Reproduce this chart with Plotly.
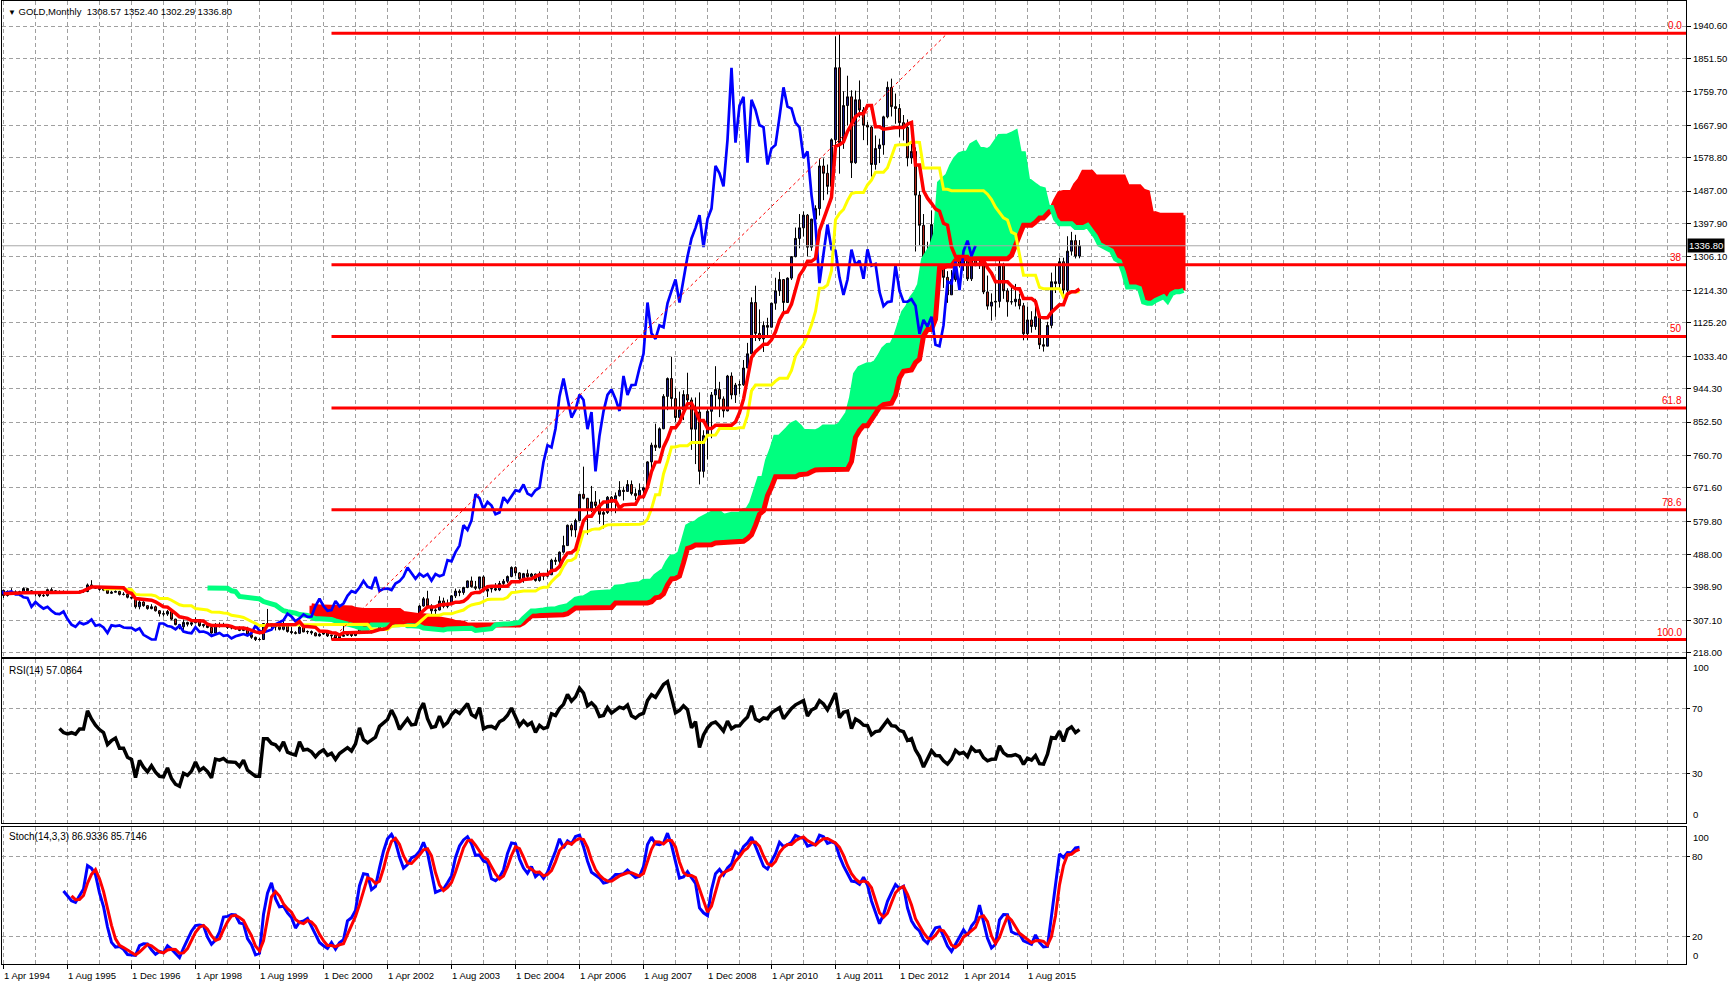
import numpy as np
import pandas as pd
import plotly.graph_objects as go

# ---------------- data: GOLD monthly bars, 1 Apr 1994 .. 1 Sep 2016 ----------------
first_open = 390.0
highs = [
    392, 390, 396, 390, 389, 398, 397, 391, 385,                        # 1994 Apr-Dec
    383, 381, 395, 397, 391, 390, 390, 389, 388, 388, 390, 390,         # 1995
    409, 418, 402, 398, 395, 394, 389, 390, 389, 385, 383, 372,         # 1996
    370, 365, 360, 349, 352, 348, 336, 333, 336, 334, 312, 298,         # 1997
    310, 304, 304, 316, 311, 298, 297, 290, 300, 302, 301, 297,         # 1998
    293, 290, 291, 290, 290, 270, 263, 260, 300, 339, 300, 293,         # 1999
    293, 313, 294, 289, 278, 292, 291, 280, 280, 275, 272, 275,         # 2000
    274, 268, 268, 265, 292, 274, 271, 278, 296, 294, 284, 281,         # 2001
    286, 303, 304, 310, 328, 332, 320, 318, 328, 326, 324, 350,         # 2002
    372, 389, 352, 341, 374, 370, 365, 377, 395, 393, 400, 417,         # 2003
    428, 416, 427, 431, 395, 401, 410, 416, 421, 431, 456, 456,         # 2004
    440, 438, 447, 438, 436, 442, 438, 447, 477, 481, 497, 540,         # 2005
    571, 574, 587, 654, 730, 644, 677, 663, 640, 611, 649, 649,         # 2006
    659, 690, 675, 693, 692, 670, 684, 675, 745, 796, 848, 838,         # 2007
    929, 975, 1032, 945, 936, 940, 988, 920, 920, 934, 830, 890,        # 2008
    935, 1006, 963, 923, 982, 989, 960, 966, 1023, 1070, 1195, 1227,    # 2009
    1162, 1129, 1139, 1180, 1249, 1265, 1245, 1250, 1308, 1387, 1424, 1431,  # 2010
    1424, 1411, 1448, 1576, 1577, 1560, 1632, 1912, 1921, 1761, 1804, 1764,  # 2011
    1763, 1791, 1718, 1677, 1666, 1640, 1631, 1694, 1788, 1796, 1755, 1727,  # 2012
    1696, 1684, 1617, 1607, 1487, 1424, 1348, 1434, 1434, 1362, 1362, 1267,  # 2013
    1270, 1345, 1392, 1331, 1315, 1332, 1345, 1322, 1292, 1255, 1206, 1239,  # 2014
    1307, 1290, 1220, 1225, 1232, 1205, 1180, 1170, 1157, 1191, 1142, 1088,  # 2015
    1128, 1263, 1283, 1304, 1304, 1363, 1375, 1367, 1352.40,                 # 2016 Jan-Sep
]
lows = [
    369, 373, 380, 379, 374, 382, 385, 380, 374,
    371, 372, 373, 385, 381, 382, 381, 380, 381, 380, 381, 383,
    385, 398, 394, 389, 388, 380, 380, 384, 376, 376, 368, 366,
    340, 338, 345, 337, 338, 332, 318, 318, 320, 308, 294, 283,
    278, 291, 292, 299, 290, 288, 286, 271, 273, 288, 290, 284,
    283, 282, 278, 278, 266, 257, 251, 252, 254, 295, 286, 280,
    280, 280, 274, 270, 269, 270, 275, 270, 268, 264, 263, 268,
    262, 255, 256, 255, 263, 265, 262, 264, 270, 276, 272, 272,
    277, 281, 288, 299, 307, 313, 300, 301, 311, 312, 314, 318,
    345, 344, 323, 320, 335, 341, 341, 351, 369, 374, 378, 396,
    398, 391, 392, 385, 372, 384, 388, 388, 400, 410, 426, 430,
    418, 411, 424, 421, 414, 414, 418, 426, 432, 460, 458, 491,
    513, 538, 536, 581, 640, 543, 605, 612, 573, 560, 600, 606,
    602, 648, 637, 662, 651, 638, 642, 642, 671, 724, 773, 780,
    833, 885, 890, 853, 846, 858, 905, 776, 737, 681, 700, 750,
    808, 893, 866, 865, 882, 915, 905, 930, 952, 1001, 1040, 1075,
    1075, 1045, 1087, 1113, 1161, 1199, 1157, 1181, 1243, 1305, 1330, 1362,
    1308, 1323, 1381, 1420, 1462, 1478, 1478, 1600, 1535, 1603, 1667, 1523,
    1562, 1689, 1627, 1613, 1527, 1546, 1564, 1587, 1687, 1692, 1672, 1636,
    1626, 1555, 1562, 1321, 1338, 1180, 1206, 1271, 1292, 1251, 1221, 1180,
    1202, 1238, 1277, 1268, 1240, 1240, 1281, 1273, 1204, 1161, 1131, 1142,
    1167, 1191, 1142, 1175, 1170, 1162, 1077, 1078, 1098, 1106, 1053, 1046,
    1061, 1110, 1207, 1209, 1200, 1200, 1310, 1302, 1302.29,
]
closes = [
    376, 387, 386, 384, 386, 395, 389, 383, 383,
    375, 376, 392, 389, 385, 387, 384, 383, 384, 383, 387, 387,
    405, 400, 396, 393, 391, 382, 385, 387, 379, 379, 371, 369,
    345, 358, 348, 340, 345, 334, 326, 325, 332, 311, 296, 290,
    302, 297, 301, 310, 293, 296, 288, 273, 294, 292, 294, 288,
    287, 287, 280, 286, 268, 261, 255, 255, 299, 299, 292, 290,
    283, 293, 277, 274, 272, 289, 276, 277, 273, 265, 270, 273,
    265, 267, 258, 264, 267, 270, 266, 273, 293, 279, 275, 279,
    282, 297, 302, 308, 326, 318, 305, 313, 324, 317, 318, 347,
    367, 347, 334, 336, 361, 346, 354, 375, 388, 384, 398, 416,
    400, 396, 427, 388, 394, 395, 391, 409, 415, 428, 453, 438,
    422, 436, 428, 435, 417, 435, 429, 433, 473, 470, 495, 513,
    569, 556, 582, 654, 643, 613, 633, 623, 599, 604, 646, 632,
    650, 665, 662, 681, 656, 650, 665, 672, 743, 789, 783, 834,
    923, 972, 917, 865, 886, 928, 913, 833, 880, 717, 815, 882,
    927, 942, 916, 883, 979, 927, 954, 955, 1001, 1040, 1181, 1096,
    1081, 1118, 1113, 1179, 1213, 1244, 1181, 1248, 1307, 1357, 1386, 1421,
    1333, 1410, 1439, 1556, 1536, 1500, 1628, 1826, 1620, 1722, 1746, 1565,
    1738, 1710, 1668, 1663, 1560, 1604, 1614, 1691, 1772, 1719, 1714, 1675,
    1662, 1578, 1596, 1476, 1393, 1234, 1312, 1395, 1327, 1323, 1250, 1202,
    1244, 1326, 1284, 1296, 1246, 1327, 1282, 1287, 1210, 1171, 1182, 1184,
    1283, 1213, 1183, 1183, 1190, 1172, 1095, 1133, 1115, 1142, 1065, 1061,
    1118, 1238, 1233, 1293, 1215, 1322, 1351, 1308.57, 1336.80,
]

price_ticks = [218.00, 307.10, 398.90, 488.00, 579.80, 671.60, 760.70, 852.50, 944.30,
               1033.40, 1125.20, 1214.30, 1306.10, 1397.90, 1487.00, 1578.80, 1667.90,
               1759.70, 1851.50, 1940.60]
x_labels = ["1 Apr 1994", "1 Aug 1995", "1 Dec 1996", "1 Apr 1998", "1 Aug 1999",
            "1 Dec 2000", "1 Apr 2002", "1 Aug 2003", "1 Dec 2004", "1 Apr 2006",
            "1 Aug 2007", "1 Dec 2008", "1 Apr 2010", "1 Aug 2011", "1 Dec 2012",
            "1 Apr 2014", "1 Aug 2015"]
x_label_bars = list(range(0, 16 * len(x_labels), 16))

fib_high = 1920.7
fib_low = 255.0
fib_ratios = [0.0, 0.382, 0.5, 0.618, 0.786, 1.0]
fib_texts = ["0.0", "38", "50", "61.8", "78.6", "100.0"]
fib_bar_low = 82     # Feb 2001
fib_bar_high = 236   # second anchor of the fibo tool

rsi_levels = [30, 70]
stoch_levels = [20, 80]

title_text = "GOLD,Monthly\u00a0\u00a01308.57 1352.40 1302.29 1336.80"
rsi_text = "RSI(14) 57.0864"
stoch_text = "Stoch(14,3,3) 86.9336 85.7146"

# ---------------- indicators ----------------
n = len(closes)
H = pd.Series(highs, dtype=float)
L = pd.Series(lows, dtype=float)
C = pd.Series(closes, dtype=float)
O = pd.Series([first_open] + closes[:-1], dtype=float)
idx = np.arange(n)
SH = 26

tenkan = (H.rolling(9, min_periods=1).max() + L.rolling(9, min_periods=1).min()) / 2
kijun = (H.rolling(26).max() + L.rolling(26).min()) / 2
spanA = np.full(n + SH, np.nan)
spanB = np.full(n + SH, np.nan)
spanA[SH:] = ((tenkan + kijun) / 2).values
spanB[SH:] = ((H.rolling(52).max() + L.rolling(52).min()) / 2).values
xf = np.arange(n + SH)
chik_x = idx - SH
keep = chik_x >= -1

# RSI(14) Wilder
diff = np.diff(C.values)
gain = np.where(diff > 0, diff, 0.0)
loss = np.where(diff < 0, -diff, 0.0)
rsi = np.full(n, np.nan)
ag, al = gain[:14].mean(), loss[:14].mean()
rsi[14] = 100 - 100 / (1 + ag / al)
for i in range(15, n):
    ag = (ag * 13 + gain[i - 1]) / 14
    al = (al * 13 + loss[i - 1]) / 14
    rsi[i] = 100 - 100 / (1 + ag / al)

# Stochastic (14,3,3)
ll = L.rolling(14).min()
hh = H.rolling(14).max()
stk = 100 * (C - ll).rolling(3).sum() / (hh - ll).rolling(3).sum()
std = stk.rolling(3).mean()

# ---------------- figure ----------------
GREEN = "#00FF7F"
RED = "#FF0000"
GRID = "#A0A0A0"
FONT = "Liberation Sans"
XR = [-0.375, 420.625]

fig = go.Figure()

# Kumo fill
valid = ~np.isnan(spanA) & ~np.isnan(spanB)
runs = []
cur, cur_s = [], None
for j in np.where(valid)[0]:
    s = bool(spanA[j] >= spanB[j])
    if cur and (s != cur_s or j != cur[-1] + 1):
        runs.append((cur_s, cur))
        cur = []
    cur.append(int(j))
    cur_s = s
if cur:
    runs.append((cur_s, cur))
for s, run in runs:
    up = np.maximum(spanA[run], spanB[run])
    lo = np.minimum(spanA[run], spanB[run])
    px, py = [], []
    for j, u in zip(run, up):
        px += [j - 0.5, j + 0.5]
        py += [u, u]
    for j, l in zip(run[::-1], lo[::-1]):
        px += [j + 0.5, j - 0.5]
        py += [l, l]
    fig.add_trace(go.Scatter(x=px, y=py, mode="lines", fill="toself",
                             fillcolor=GREEN if s else RED, line=dict(width=0),
                             hoverinfo="skip", showlegend=False, xaxis="x", yaxis="y"))

fig.add_trace(go.Scatter(x=xf, y=spanB, mode="lines", line=dict(color=RED, width=5),
                         hoverinfo="skip", showlegend=False, xaxis="x", yaxis="y"))
fig.add_trace(go.Scatter(x=xf, y=spanA, mode="lines", line=dict(color=GREEN, width=5),
                         hoverinfo="skip", showlegend=False, xaxis="x", yaxis="y"))

fig.add_trace(go.Candlestick(
    x=idx, open=O, high=H, low=L, close=C,
    increasing=dict(line=dict(color="black", width=1), fillcolor="#1A1A8C"),
    decreasing=dict(line=dict(color="black", width=1), fillcolor="#B8261A"),
    whiskerwidth=0, hoverinfo="skip", showlegend=False, xaxis="x", yaxis="y"))

fig.add_trace(go.Scatter(x=chik_x[keep], y=C.values[keep], mode="lines",
                         line=dict(color="#0000FF", width=2.7),
                         hoverinfo="skip", showlegend=False, xaxis="x", yaxis="y"))
fig.add_trace(go.Scatter(x=idx, y=kijun, mode="lines", line=dict(color="#FFFF00", width=3),
                         hoverinfo="skip", showlegend=False, xaxis="x", yaxis="y"))
fig.add_trace(go.Scatter(x=idx, y=tenkan, mode="lines", line=dict(color=RED, width=3.5),
                         hoverinfo="skip", showlegend=False, xaxis="x", yaxis="y"))

# Fibonacci retracement
fib_levels = [fib_high - r * (fib_high - fib_low) for r in fib_ratios]
for lvl in fib_levels:
    fig.add_trace(go.Scatter(x=[fib_bar_low, XR[1]], y=[lvl, lvl], mode="lines",
                             line=dict(color=RED, width=3),
                             hoverinfo="skip", showlegend=False, xaxis="x", yaxis="y"))
fig.add_trace(go.Scatter(x=[fib_bar_low, fib_bar_high], y=[fib_low, fib_high], mode="lines",
                         line=dict(color=RED, width=1, dash="3px,3px"),
                         hoverinfo="skip", showlegend=False, xaxis="x", yaxis="y"))

# current price line
fig.add_trace(go.Scatter(x=XR, y=[closes[-1], closes[-1]], mode="lines",
                         line=dict(color="#A8A8A8", width=1),
                         hoverinfo="skip", showlegend=False, xaxis="x", yaxis="y"))

# RSI
fig.add_trace(go.Scatter(x=idx, y=rsi, mode="lines", line=dict(color="black", width=3.5),
                         hoverinfo="skip", showlegend=False, xaxis="x2", yaxis="y2"))
# Stochastic
fig.add_trace(go.Scatter(x=idx, y=stk, mode="lines", line=dict(color="#0000FF", width=3),
                         hoverinfo="skip", showlegend=False, xaxis="x3", yaxis="y3"))
fig.add_trace(go.Scatter(x=idx, y=std, mode="lines", line=dict(color=RED, width=3),
                         hoverinfo="skip", showlegend=False, xaxis="x3", yaxis="y3"))

tickfont = dict(family=FONT, size=9.5, color="black")
grid_common = dict(showgrid=True, gridcolor=GRID, gridwidth=1, griddash="4px,3px",
                   showline=True, mirror=True, linecolor="black", linewidth=1,
                   zeroline=False, fixedrange=True)

def xaxis_cfg(anchor, bottom=False):
    d = dict(grid_common, anchor=anchor, range=XR, tickmode="array", tickvals=x_label_bars,
             showticklabels=False,
             minor=dict(tickmode="linear", tick0=0, dtick=8, showgrid=True,
                        gridcolor=GRID, gridwidth=1, griddash="4px,3px", ticks=""))
    if bottom:
        d.update(ticks="outside", ticklen=4, tickcolor="black")
    else:
        d.update(ticks="")
    return d

D1 = [0.3188, 1.0]
D2 = [0.1464, 0.3167]
D3 = [0.0, 0.1423]

fig.update_layout(
    width=1728, height=986,
    margin=dict(l=2, r=42, t=1, b=22),
    paper_bgcolor="white", plot_bgcolor="white",
    showlegend=False, hovermode=False,
    font=dict(family=FONT, size=9.5, color="black"),
    xaxis=xaxis_cfg("y"),
    xaxis2=dict(xaxis_cfg("y2"), matches="x"),
    xaxis3=dict(xaxis_cfg("y3", bottom=True), matches="x"),
    yaxis=dict(grid_common, domain=D1, anchor="x", side="right", range=[207.0, 2009.3],
               tickmode="array", tickvals=price_ticks,
               ticktext=[f"{v:.2f}" for v in price_ticks],
               ticks="outside", ticklen=4, tickcolor="black", tickfont=tickfont),
    yaxis2=dict(grid_common, domain=D2, anchor="x2", side="right", range=[-0.6, 100.6],
                tickmode="array", tickvals=rsi_levels, ticks="outside", ticklen=3,
                tickcolor="black", tickfont=tickfont),
    yaxis3=dict(grid_common, domain=D3, anchor="x3", side="right", range=[-0.4, 102.2],
                tickmode="array", tickvals=stoch_levels, ticks="outside", ticklen=3,
                tickcolor="black", tickfont=tickfont),
)
fig.update_xaxes(rangeslider_visible=False)

ann = []
ann.append(dict(xref="paper", yref="paper", x=0, y=1, xanchor="left", yanchor="top",
                xshift=4, yshift=-3, showarrow=False,
                text="<span style='font-size:8px'>▼</span> " + title_text,
                font=dict(family=FONT, size=9.5, color="black")))
ann.append(dict(xref="paper", yref="y2 domain", x=0, y=1, xanchor="left", yanchor="top",
                xshift=5, yshift=-4, showarrow=False, text=rsi_text,
                font=dict(family=FONT, size=10, color="black")))
ann.append(dict(xref="paper", yref="y3 domain", x=0, y=1, xanchor="left", yanchor="top",
                xshift=5, yshift=-2, showarrow=False, text=stoch_text,
                font=dict(family=FONT, size=10, color="black")))
for lvl, t in zip(fib_levels, fib_texts):
    ann.append(dict(xref="x domain", yref="y", x=1, y=lvl, xanchor="right", yanchor="bottom",
                    xshift=-2, yshift=0, showarrow=False, text=t,
                    font=dict(family=FONT, size=10, color=RED)))
ann.append(dict(xref="x domain", yref="y", x=1, y=closes[-1], xanchor="left", yanchor="middle",
                xshift=1, showarrow=False, text=f"{closes[-1]:.2f}", bgcolor="black",
                borderpad=1, font=dict(family=FONT, size=9.5, color="white")))
for yr, ya, v, anc in [("y2", "x2", 100, "top"), ("y2", "x2", 0, "bottom"),
                       ("y3", "x3", 100, "top"), ("y3", "x3", 0, "bottom")]:
    ann.append(dict(xref=f"{ya} domain", yref=yr, x=1, y=v, xanchor="left", yanchor=anc,
                    xshift=5, showarrow=False, text=str(v), font=tickfont))
for b, t in zip(x_label_bars, x_labels):
    ann.append(dict(xref="x3", yref="y3 domain", x=b, y=0, xanchor="left", yanchor="top",
                    xshift=-2, yshift=-4, showarrow=False, text=t, font=tickfont))
fig.update_layout(annotations=ann)

fig.write_html("out.html", config={"displayModeBar": False, "staticPlot": True},
               post_script="document.body.style.margin='0';document.body.style.overflow='hidden';")
